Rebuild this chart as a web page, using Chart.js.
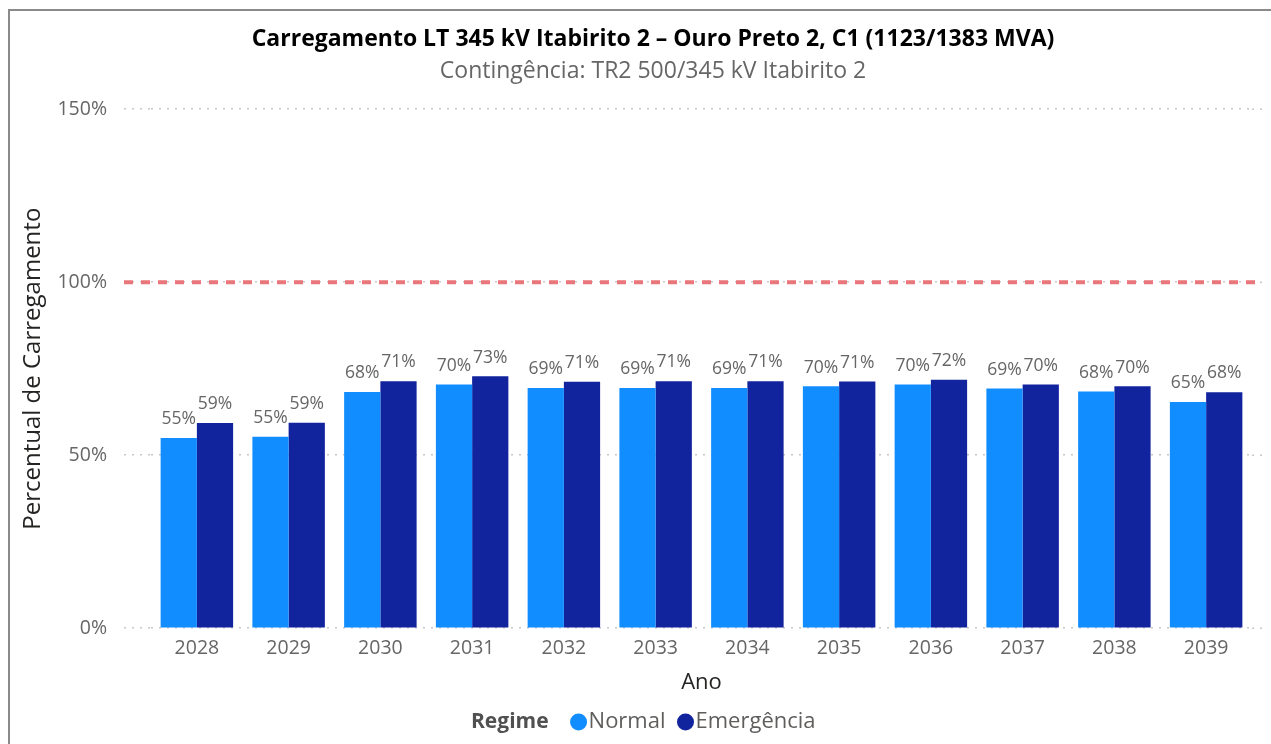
<!DOCTYPE html>
<html>
<head>
<meta charset="utf-8">
<script src="https://cdn.jsdelivr.net/npm/chart.js@4.4.0/dist/chart.umd.min.js"></script>
<style>
    html, body { margin: 0; padding: 0; background: #fff; }
    #wrap { position: relative; width: 1271px; height: 744px; overflow: hidden; }
    #frame { position: absolute; left: 8px; top: 9px; width: 1300px; height: 800px;
             border-left: 2px solid #8a8a8a; border-top: 2px solid #8a8a8a; }
    canvas { position: absolute; left: 0; top: 0; }
</style>
</head>
<body>
<div id="wrap">
    <div id="frame"></div>
    <canvas id="chart" width="1271" height="744"></canvas>
</div>
<script>
'use strict';

// chart data
var years = ['2028', '2029', '2030', '2031', '2032', '2033', '2034', '2035', '2036', '2037', '2038', '2039'];
var normal = [55.0, 55.3, 68.3, 70.4, 69.4, 69.4, 69.4, 69.9, 70.4, 69.3, 68.4, 65.4];
var emergencia = [59.3, 59.4, 71.4, 72.8, 71.2, 71.4, 71.4, 71.3, 71.8, 70.4, 69.9, 68.2];
var yTicks = [0, 50, 100, 150];
var limite = 100;

var fontFamily = '"Open Sans", "Noto Sans", sans-serif';
var gridColor = '#C8C8C8';

// dotted grid runs a little past the plot on the right
var gridTail = {
    id: 'gridTail',
    beforeDatasetsDraw: function (chart) {
        var ctx = chart.ctx;
        var right = chart.chartArea.right;
        ctx.save();
        ctx.strokeStyle = gridColor;
        ctx.lineWidth = 1.5;
        ctx.setLineDash([2, 6]);
        chart.scales.y.ticks.forEach(function (t) {
            var y = chart.scales.y.getPixelForValue(t.value);
            ctx.beginPath();
            ctx.moveTo(right, y);
            ctx.lineTo(right + 10, y);
            ctx.stroke();
        });
        ctx.restore();
    }
};

// red dashed limit line at 100%
var limitLine = {
    id: 'limitLine',
    afterDatasetsDraw: function (chart) {
        var y = chart.scales.y.getPixelForValue(limite);
        var ctx = chart.ctx;
        ctx.save();
        ctx.strokeStyle = '#E8767B';
        ctx.lineWidth = 4;
        ctx.setLineDash([9, 8]);
        ctx.beginPath();
        ctx.moveTo(chart.chartArea.left - 27, y);
        ctx.lineTo(chart.chartArea.right + 10, y);
        ctx.stroke();
        ctx.restore();
    }
};

// value labels above each bar
var barLabels = {
    id: 'barLabels',
    afterDatasetsDraw: function (chart) {
        var ctx = chart.ctx;
        ctx.save();
        ctx.font = '17.5px ' + fontFamily;
        ctx.fillStyle = '#666666';
        ctx.textAlign = 'center';
        ctx.textBaseline = 'bottom';
        chart.data.datasets.forEach(function (ds, i) {
            chart.getDatasetMeta(i).data.forEach(function (bar, j) {
                ctx.fillText(Math.round(ds.data[j]) + '%', bar.x, bar.y - 10);
            });
        });
        ctx.restore();
    }
};

// legend with "Regime" title inline
var inlineLegend = {
    id: 'inlineLegend',
    afterDraw: function (chart) {
        var ctx = chart.ctx;
        var y = 722;
        var x = 471;
        ctx.save();
        ctx.textBaseline = 'middle';
        ctx.textAlign = 'left';
        ctx.font = 'bold 21px ' + fontFamily;
        ctx.fillStyle = '#505050';
        ctx.fillText('Regime', x, y);
        x += ctx.measureText('Regime').width + 21;
        ctx.font = '22px ' + fontFamily;
        chart.data.datasets.forEach(function (ds) {
            ctx.fillStyle = ds.backgroundColor;
            ctx.beginPath();
            ctx.arc(x + 9, y, 8.5, 0, Math.PI * 2);
            ctx.fill();
            x += 19;
            ctx.fillStyle = '#605E5C';
            ctx.fillText(ds.label, x, y);
            x += ctx.measureText(ds.label).width + 11;
        });
        ctx.restore();
    }
};

var ctx = document.getElementById('chart').getContext('2d');
var myChart = new Chart(ctx, {
    type: 'bar',
    data: {
        labels: years,
        datasets: [{
            label: 'Normal',
            data: normal,
            backgroundColor: '#118DFF'
        }, {
            label: 'Emergência',
            data: emergencia,
            backgroundColor: '#12239E'
        }]
    },
    options: {
        responsive: false,
        animation: false,
        events: [],
        layout: { padding: { left: 54, right: 19, top: 0, bottom: 48 } },
        datasets: { bar: { categoryPercentage: 0.79, barPercentage: 1.0 } },
        plugins: {
            legend: { display: false },
            tooltip: { enabled: false },
            title: {
                display: true,
                text: 'Carregamento LT 345 kV Itabirito 2 – Ouro Preto 2, C1 (1123/1383 MVA)',
                color: '#000000',
                font: { family: fontFamily, size: 23, weight: 'bold' },
                padding: { top: 26, bottom: 3 }
            },
            subtitle: {
                display: true,
                text: 'Contingência: TR2 500/345 kV Itabirito 2',
                color: '#666666',
                font: { family: fontFamily, size: 23 },
                padding: { top: 1, bottom: 24 }
            }
        },
        scales: {
            x: {
                grid: { display: false, drawTicks: false },
                border: { display: false },
                ticks: { color: '#666666', padding: 9, font: { family: fontFamily, size: 19.5 } },
                title: {
                    display: true,
                    text: 'Ano',
                    color: '#252423',
                    font: { family: fontFamily, size: 22 },
                    padding: { top: 0, bottom: 0 }
                }
            },
            y: {
                min: 0,
                max: 150,
                afterBuildTicks: function (scale) {
                    scale.ticks = yTicks.map(function (v) { return { value: v }; });
                },
                afterFit: function (scale) { scale.width = 97; },
                grid: {
                    color: gridColor,
                    lineWidth: 1.5,
                    tickLength: 27,
                    tickColor: gridColor,
                    tickWidth: 1.5,
                    tickBorderDash: [2, 6]
                },
                border: { display: false, dash: [2, 6] },
                ticks: {
                    color: '#666666',
                    padding: 17,
                    font: { family: fontFamily, size: 19.5 },
                    callback: function (v) { return v + '%'; }
                },
                title: {
                    display: true,
                    text: 'Percentual de Carregamento',
                    color: '#252423',
                    font: { family: fontFamily, size: 24 },
                    padding: { top: -35, bottom: 0 }
                }
            }
        }
    },
    plugins: [gridTail, limitLine, barLabels, inlineLegend]
});
</script>
</body>
</html>
